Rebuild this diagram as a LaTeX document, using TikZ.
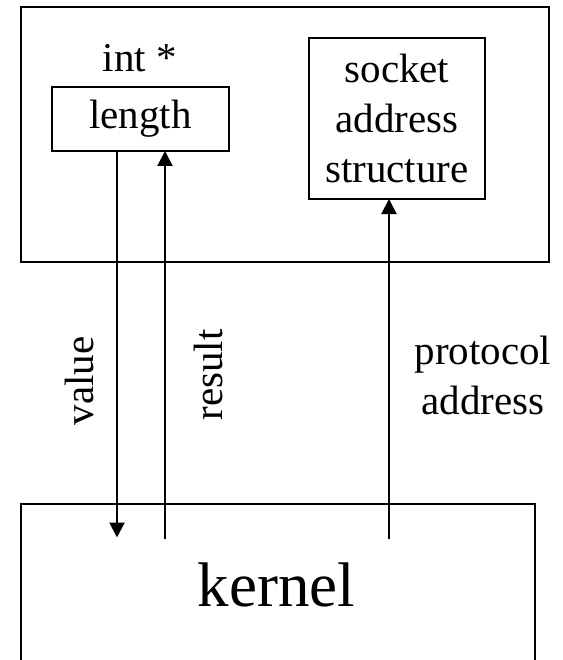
\documentclass[tikz,border=0pt]{standalone}
\usepackage{fontspec}
\setmainfont{Liberation Serif}
\usetikzlibrary{arrows.meta,calc}
\begin{document}
\begin{tikzpicture}[x=1pt,y=-1pt,
  line width=2pt,
  boxst/.style={draw, line width=2pt, inner sep=0pt, outer sep=0pt},
  txt/.style={font=\fontsize{41}{50}\selectfont, inner sep=0pt, outer sep=0pt},
  arr/.style={-{Triangle[length=15pt,width=15pt]}, line width=2pt}]
\useasboundingbox (0,0) rectangle (562,660);
\clip (0,0) rectangle (562,660);
% user box
\node[boxst, minimum width=528pt, minimum height=255pt] (user) at (285,134.5) {};
\node[txt, anchor=base] (intstar) at (140,72) {int *};
\node[boxst, txt, minimum width=177pt, minimum height=64pt] (length) at (140.5,119) {length};
\node[boxst, txt, align=center, minimum width=176pt, minimum height=161pt] (socket) at (397,118.5) {socket\\address\\structure};
% kernel box
\node[boxst, minimum width=514pt, minimum height=200pt, anchor=north west] (kernel) at (21,504) {};
\node[txt, font=\fontsize{63}{75}\selectfont, anchor=base] (kerneltext) at (276.5,606) {kernel};
% connectors
\coordinate (vend) at (117,537.5);
\coordinate (rstart) at (165,539);
\coordinate (pstart) at (389,539);
\draw[arr] (length.south -| vend) -- (vend);
\draw[arr] (rstart) -- (rstart |- length.south);
\draw[arr] (pstart) -- (pstart |- socket.south);
% labels
\node[txt, rotate=90, anchor=base] (value) at (93,381) {value};
\node[txt, rotate=90, anchor=base] (result) at (222,375) {result};
\node[txt, align=center] (proto) at (483,375.6) {protocol\\address};
\end{tikzpicture}
\end{document}
